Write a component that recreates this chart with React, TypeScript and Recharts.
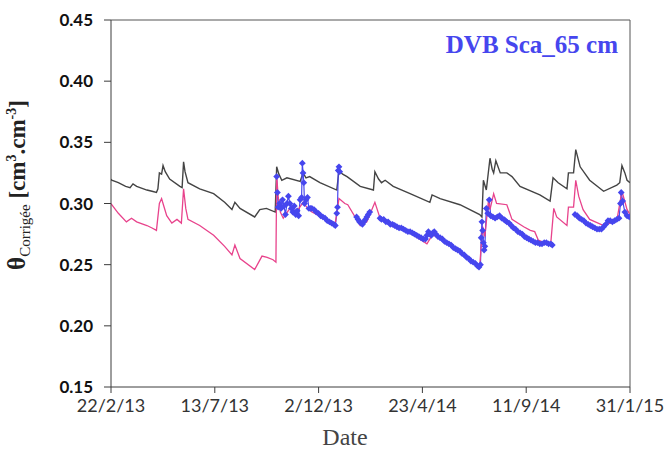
import React from "react"
import { LineChart, Line, XAxis, YAxis, ReferenceLine } from "recharts"

// x values are days counted from 22/2/13
const xTicks = [0, 141.6, 283.2, 424.8, 566.4, 708]
const xTickLabels = ["22/2/13", "13/7/13", "2/12/13", "23/4/14", "11/9/14", "31/1/15"]
const yTicks = [0.15, 0.2, 0.25, 0.3, 0.35, 0.4, 0.45]

// black line
const blackDays = [
  0, 1, 10, 20, 26, 30, 35, 49, 56, 62, 64, 66, 69, 71, 74, 80, 94, 97, 99, 101, 105, 121, 140, 155, 165, 169, 176,
  196, 203, 212, 224, 226, 229, 233, 240, 258, 262, 266, 271, 285, 308, 311, 316, 322, 340, 358, 360, 365, 369, 374,
  385, 408, 435, 438, 449, 476, 503, 506, 508, 512, 517, 520, 522, 525, 531, 540, 547, 558, 585, 599, 603, 610, 622,
  624, 631, 634, 640, 653, 672, 690, 694, 697, 701, 704, 708,
]
const blackVals = [
  0.32, 0.319, 0.317, 0.314, 0.313, 0.316, 0.314, 0.311, 0.31, 0.309, 0.312, 0.325, 0.324, 0.331, 0.326, 0.32, 0.314,
  0.313, 0.334, 0.326, 0.317, 0.312, 0.308, 0.301, 0.295, 0.301, 0.296, 0.289, 0.295, 0.296, 0.293, 0.33, 0.324, 0.319,
  0.321, 0.318, 0.325, 0.321, 0.322, 0.317, 0.311, 0.327, 0.324, 0.322, 0.314, 0.311, 0.326, 0.32, 0.317, 0.319, 0.314,
  0.308, 0.301, 0.307, 0.304, 0.299, 0.291, 0.289, 0.319, 0.311, 0.337, 0.328, 0.325, 0.335, 0.325, 0.325, 0.322,
  0.314, 0.307, 0.302, 0.321, 0.317, 0.312, 0.325, 0.325, 0.344, 0.33, 0.319, 0.31, 0.315, 0.317, 0.331, 0.325, 0.319,
  0.317,
]

// pink line
const pinkDays = [
  0, 1, 10, 21, 28, 35, 49, 56, 62, 66, 69, 72, 76, 83, 90, 96, 99, 102, 105, 121, 140, 155, 165, 169, 176, 196, 206,
  213, 221, 225, 226, 228, 231, 235, 244, 253, 262, 267, 274, 294, 306, 311, 319, 323, 340, 349, 360, 367, 385, 408,
  431, 438, 449, 462, 476, 490, 499, 503, 507, 510, 515, 517, 522, 526, 540, 547, 563, 572, 578, 583, 594, 600, 604,
  608, 622, 624, 631, 634, 638, 644, 653, 672, 690, 697, 704, 708,
]
const pinkVals = [
  0.3, 0.299, 0.292, 0.285, 0.288, 0.285, 0.282, 0.28, 0.278, 0.3, 0.304, 0.298, 0.29, 0.284, 0.287, 0.284, 0.312,
  0.296, 0.287, 0.282, 0.274, 0.265, 0.258, 0.266, 0.255, 0.246, 0.257, 0.256, 0.254, 0.252, 0.323, 0.306, 0.293,
  0.288, 0.296, 0.293, 0.301, 0.297, 0.293, 0.287, 0.284, 0.304, 0.3, 0.299, 0.282, 0.285, 0.301, 0.288, 0.281, 0.276,
  0.267, 0.274, 0.273, 0.266, 0.261, 0.253, 0.25, 0.249, 0.281, 0.273, 0.303, 0.295, 0.308, 0.3, 0.299, 0.287, 0.281,
  0.278, 0.277, 0.27, 0.267, 0.268, 0.296, 0.289, 0.282, 0.297, 0.297, 0.319, 0.306, 0.295, 0.287, 0.282, 0.286, 0.31,
  0.295, 0.291,
]

// blue measured points (null = no measurement)
const blueDays = [
  226, 227, 228, 230, 232, 234, 236, 238, 240, 242, 244, 246, 248, 250, 252, 254, 256, 258, 260, 261, 262, 263, 264,
  266, 268, 270, 272, 274, 277, 280, 283, 286, 289, 292, 295, 298, 301, 304, 306, 308, 309, 310, 311, 312, 320,
  335, 337, 339, 341, 343, 345, 347, 349, 351, 353, 360,
  367, 369, 372, 375, 378, 381, 384, 387, 390, 393, 396, 399, 402, 405, 408, 411, 414, 417, 420, 423, 426, 429, 431,
  433, 435, 437, 439, 441, 443, 446, 449, 452, 455, 458, 461, 464, 467, 470, 473, 476, 479, 482, 485, 488, 491, 494,
  497, 500, 502, 504, 505, 506, 507, 508, 509, 510, 512, 514, 516, 518, 521, 524, 527, 530, 533, 536, 538,
  540, 543, 546, 549, 552, 555, 558, 561, 564, 567, 570, 573, 576, 579, 582, 585, 588, 591, 594, 597, 600, 602, 615,
  633, 636, 639, 642, 645, 648, 651, 654, 657, 660, 663, 666, 669, 672, 675, 678, 681, 684, 687, 690, 693, 695, 696,
  698, 701, 704, 707,
]
const blueVals = [
  0.322, 0.309, 0.297, 0.3, 0.296, 0.303, 0.298, 0.291, 0.3, 0.306, 0.3, 0.296, 0.293, 0.298, 0.291, 0.294, 0.29,
  0.303, 0.305, 0.333, 0.325, 0.317, 0.3, 0.303, 0.305, 0.296, 0.296, 0.296, 0.295, 0.293, 0.292, 0.29, 0.289, 0.288,
  0.286, 0.285, 0.284, 0.283, 0.282, 0.292, 0.297, 0.327, 0.33, 0.326, null,
  0.289, 0.287, 0.285, 0.284, 0.283, 0.285, 0.287, 0.289, 0.291, 0.293, null,
  0.288, 0.287, 0.287, 0.285, 0.285, 0.283, 0.283, 0.282, 0.281, 0.28, 0.28, 0.279, 0.278, 0.277, 0.277, 0.276, 0.275,
  0.274, 0.273, 0.272, 0.271, 0.271, 0.274, 0.277, 0.275, 0.274, 0.276, 0.277, 0.275, 0.273, 0.272, 0.271, 0.269,
  0.268, 0.267, 0.266, 0.264, 0.263, 0.262, 0.261, 0.259, 0.258, 0.256, 0.255, 0.253, 0.252, 0.251, 0.249, 0.248,
  0.25, 0.272, 0.285, 0.278, 0.268, 0.262, 0.265, 0.296, 0.292, 0.303, 0.29, 0.289, 0.288, 0.289, 0.29, 0.288, 0.287,
  0.286,
  0.285, 0.284, 0.282, 0.28, 0.279, 0.277, 0.276, 0.275, 0.273, 0.272, 0.271, 0.27, 0.269, 0.268, 0.268, 0.267, 0.267,
  0.268, 0.268, 0.267, 0.267, 0.266, null,
  0.291, 0.29, 0.288, 0.287, 0.286, 0.284, 0.283, 0.282, 0.281, 0.28, 0.279, 0.279, 0.279, 0.281, 0.283, 0.286, 0.286,
  0.285, 0.286, 0.287, 0.288, 0.3, 0.309, 0.302, 0.293, 0.29, 0.289,
]

const toPoints = (days: number[], vals: (number | null)[]) => days.map((d, i) => ({ d, v: vals[i] }))

const blackData = toPoints(blackDays, blackVals)
const pinkData = toPoints(pinkDays, pinkVals)
const blueData = toPoints(blueDays, blueVals)

const blue = "#4646ee"
const serif = "'Liberation Serif', 'DejaVu Serif', serif"

function Diamond(props: any) {
  const { cx, cy, index, value } = props
  if (cx == null || cy == null || value == null) return <g key={`e-${index}`} />
  const r = 3.4
  return (
    <path
      key={`dm-${index}`}
      d={`M${cx},${cy - r}L${cx + r},${cy}L${cx},${cy + r}L${cx - r},${cy}Z`}
      fill={blue}
      stroke="none"
    />
  )
}

function YLabel() {
  return (
    <text transform="translate(25,185) rotate(-90)" textAnchor="middle" fontFamily={serif} fontWeight="bold" fill="#222">
      <tspan fontSize={25}>θ</tspan>
      <tspan fontSize={15} dy={5} fontWeight="normal">Corrigée</tspan>
      <tspan fontSize={23} dy={-5}> [cm</tspan>
      <tspan fontSize={14} dy={-9}>3</tspan>
      <tspan fontSize={23} dy={9}>.cm</tspan>
      <tspan fontSize={14} dy={-9}>-3</tspan>
      <tspan fontSize={23} dy={9}>]</tspan>
    </text>
  )
}

export default function App() {
  return (
    <div style={{ position: "fixed", left: 0, top: 0, width: 668, height: 452, background: "#fff" }}>
      <LineChart width={668} height={452} margin={{ top: 20, right: 38, left: 51, bottom: 35 }}>
        <XAxis
          type="number"
          dataKey="d"
          domain={[0, 708]}
          ticks={xTicks}
          tickFormatter={(v: number, i: number) => xTickLabels[i]}
          allowDataOverflow
          height={30}
          stroke="#3c3c3c"
          tickSize={6}
          tickMargin={6}
          tick={{ fill: "#333", fontSize: 18, fontFamily: "Lato, 'Open Sans', sans-serif" }}
          label={{
            content: () => (
              <text x={345} y={445} textAnchor="middle" fontSize={24} fill="#444" fontFamily={serif}>
                Date
              </text>
            ),
          }}
        />
        <YAxis
          type="number"
          domain={[0.15, 0.45]}
          ticks={yTicks}
          tickFormatter={(v: number) => v.toFixed(2)}
          width={60}
          stroke="#3c3c3c"
          tickSize={7}
          tickMargin={11}
          tick={{ fill: "#111", fontSize: 17, fontWeight: "bold", fontFamily: "Lato, 'Open Sans', sans-serif" }}
          label={{ content: () => <YLabel /> }}
        />
        <ReferenceLine
          y={0.45}
          stroke="#555"
          label={{
            content: () => (
              <text x={618} y={53} textAnchor="end" fontSize={25} fontWeight="bold" fill={blue} fontFamily={serif}>
                DVB Sca_65 cm
              </text>
            ),
          }}
        />
        <ReferenceLine x={708} stroke="#555" />
        <Line data={blackData} dataKey="v" stroke="#444" strokeWidth={1.4} dot={false} isAnimationActive={false} />
        <Line
          data={blueData}
          dataKey="v"
          stroke={blue}
          strokeWidth={1.2}
          dot={Diamond}
          activeDot={false}
          connectNulls={false}
          isAnimationActive={false}
        />
        <Line data={pinkData} dataKey="v" stroke="#e8438c" strokeWidth={1.3} dot={false} isAnimationActive={false} />
      </LineChart>
    </div>
  )
}
